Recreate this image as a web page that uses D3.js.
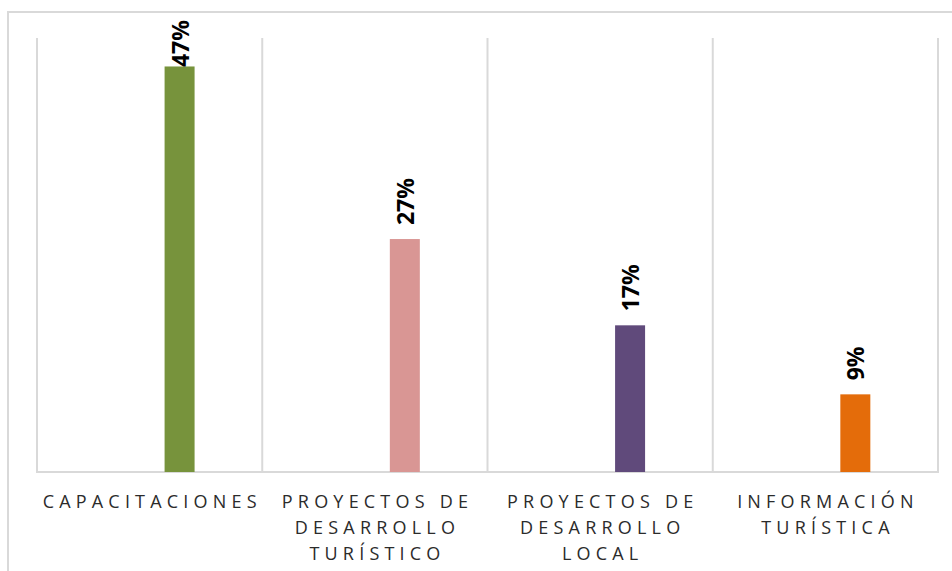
<!DOCTYPE html>
<html><head><meta charset="utf-8">
<script src="https://cdn.jsdelivr.net/npm/d3@7"></script>
<style>body{margin:0;background:#fff}svg{display:block}</style>
</head><body><svg id="c" width="952" height="571"></svg>
<script>
const categories = [["CAPACITACIONES"],["PROYECTOS DE","DESARROLLO","TURÍSTICO"],["PROYECTOS DE","DESARROLLO","LOCAL"],["INFORMACIÓN","TURÍSTICA"]];
const values = [47, 27, 17, 9];
const valueLabels = ["47%","27%","17%","9%"];
const colors = ["#77933C","#D99694","#604A7B","#E46C0A"];
const yDomain = [0, 50.3];

const svg = d3.select("#c");
const L = 37, R = 938, T = 38, B = 472;
svg.append("rect").attr("x",8).attr("y",12).attr("width",960).attr("height",600)
  .attr("fill","none").attr("stroke","#D9D9D9").attr("stroke-width",2);

const x = d3.scaleBand().domain(d3.range(categories.length)).range([L,R]).padding(0);
const y = d3.scaleLinear().domain(yDomain).range([B,T]);

const edges = d3.range(categories.length+1).map(i => i<categories.length ? x(i) : R);
svg.selectAll("line.grid").data(edges).join("line").attr("class","grid")
  .attr("x1",d=>d).attr("x2",d=>d).attr("y1",T).attr("y2",B)
  .attr("stroke","#D9D9D9").attr("stroke-width",2);
svg.append("line").attr("x1",L-1).attr("x2",R+1).attr("y1",B).attr("y2",B)
  .attr("stroke","#D9D9D9").attr("stroke-width",2);

const bw = 30;
const off = x.bandwidth()*0.633;
svg.selectAll("rect.bar").data(values).join("rect").attr("class","bar")
  .attr("x",(d,i)=>x(i)+off-bw/2).attr("width",bw)
  .attr("y",d=>y(d)).attr("height",d=>B-y(d)).attr("fill",(d,i)=>colors[i]);

svg.selectAll("text.val").data(values).join("text").attr("class","val")
  .attr("font-family","'Open Sans',sans-serif").attr("font-weight","bold").attr("font-size",23)
  .attr("fill","#000").text((d,i)=>valueLabels[i])
  .each(function(d,i){
    const len = this.getComputedTextLength();
    let end = y(d) - 14;
    if (end - len < 20) end = 20 + len;
    d3.select(this).attr("transform",`translate(${x(i)+off+9},${end}) rotate(-90)`);
  });

const ls = 5.2;
categories.forEach((lines,i)=>{
  const t = svg.append("text").attr("font-family","'Open Sans',sans-serif").attr("font-size",18)
    .attr("fill","#2b2b2b").attr("text-anchor","middle").attr("letter-spacing",ls);
  lines.forEach((ln,j)=>{
    t.append("tspan").attr("x",x(i)+x.bandwidth()/2+ls/2).attr("y",508+j*26).text(ln);
  });
});
</script></body></html>
